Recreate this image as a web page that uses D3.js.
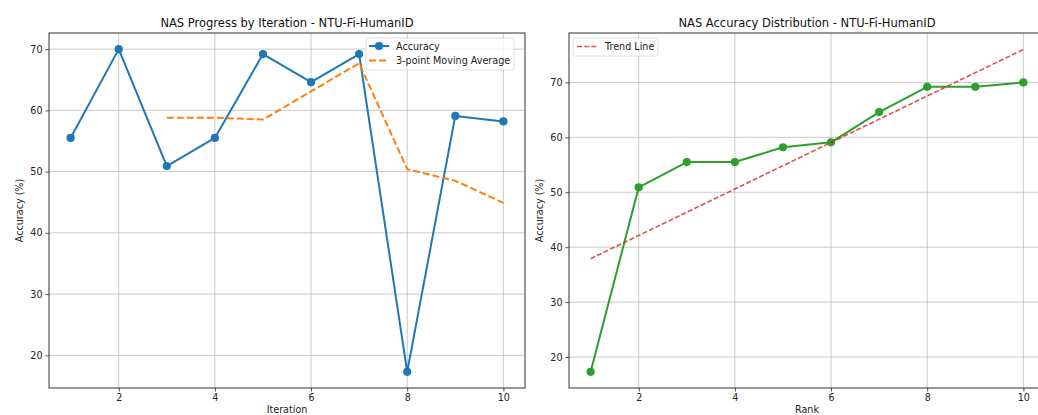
<!DOCTYPE html>
<html><head><meta charset="utf-8">
<script src="https://cdn.jsdelivr.net/npm/d3@7"></script>
<style>
html,body{margin:0;padding:0;background:#fff;overflow:hidden;}
svg{display:block;font-family:"DejaVu Sans",sans-serif;}
</style></head>
<body>
<svg id="chart" width="1038" height="415"></svg>
<script>
// ---- data ----
const iterations = [1,2,3,4,5,6,7,8,9,10];
const accuracy = [55.5,70.0,50.9,55.5,69.2,64.6,69.2,17.3,59.1,58.2];
const maIterations = [3,4,5,6,7,8,9,10];
const movingAvg = [58.8,58.8,58.5,63.1,67.7,50.4,48.5,44.9];
const ranks = [1,2,3,4,5,6,7,8,9,10];
const sortedAccuracy = [17.3,50.9,55.5,55.5,58.2,59.1,64.6,69.2,69.2,70.0];
const trendRanks = [1,10];
const trendValues = [37.9,76.0];
const xTicks = [2,4,6,8,10];
const leftYTicks = [20,30,40,50,60,70];
const rightYTicks = [20,30,40,50,60,70];

const svg = d3.select("#chart");
const yTop = 33, yBot = 388;
const fs = 9.6, tfs = 11.5;

function panel(opt){
  const g = svg.append("g");
  const x = d3.scaleLinear().domain(opt.xDomain).range([opt.x0, opt.x1]);
  const y = d3.scaleLinear().domain(opt.yDomain).range([yBot, yTop]);
  const clipId = "clip"+opt.id;
  svg.append("clipPath").attr("id", clipId).append("rect")
    .attr("x", opt.x0).attr("y", yTop).attr("width", opt.x1-opt.x0).attr("height", yBot-yTop);
  const grid = g.append("g").attr("clip-path", `url(#${clipId})`);
  grid.selectAll("line.vx").data(xTicks).join("line")
    .attr("x1", d=>x(d)).attr("x2", d=>x(d)).attr("y1", yTop).attr("y2", yBot)
    .attr("stroke", "#b0b0b0").attr("stroke-opacity", 0.75).attr("stroke-width", 0.9);
  grid.selectAll("line.hy").data(opt.yTicks).join("line")
    .attr("x1", opt.x0).attr("x2", opt.x1).attr("y1", d=>y(d)).attr("y2", d=>y(d))
    .attr("stroke", "#b0b0b0").attr("stroke-opacity", 0.75).attr("stroke-width", 0.9);
  const xa = g.append("g").attr("transform", `translate(0,${yBot})`)
    .call(d3.axisBottom(x).tickValues(xTicks).tickSize(3.5).tickPadding(3).tickFormat(d3.format("d")));
  const ya = g.append("g").attr("transform", `translate(${opt.x0},0)`)
    .call(d3.axisLeft(y).tickValues(opt.yTicks).tickSize(3.5).tickPadding(3).tickFormat(d3.format("d")));
  [xa, ya].forEach(a=>{
    a.select(".domain").remove();
    a.selectAll("text").attr("font-size", fs).attr("fill", "#222").attr("font-family", "DejaVu Sans");
    a.selectAll("line").attr("stroke", "#222").attr("stroke-width", 0.8);
  });
  g.append("rect").attr("x", opt.x0).attr("y", yTop).attr("width", opt.x1-opt.x0).attr("height", yBot-yTop)
    .attr("fill", "none").attr("stroke", "#333").attr("stroke-width", 1);
  g.append("text").attr("x", (opt.x0+opt.x1)/2).attr("y", 27).attr("text-anchor", "middle")
    .attr("font-size", tfs).attr("fill", "#111").text(opt.title);
  g.append("text").attr("x", (opt.x0+opt.x1)/2).attr("y", 413).attr("text-anchor", "middle")
    .attr("font-size", fs).attr("fill", "#222").text(opt.xLabel);
  g.append("text").attr("transform", `translate(${opt.x0-26},${(yTop+yBot)/2}) rotate(-90)`)
    .attr("text-anchor", "middle").attr("font-size", fs).attr("fill", "#222").text("Accuracy (%)");
  svg.append("clipPath").attr("id", clipId+"b").append("rect")
    .attr("x", opt.x0-10).attr("y", yTop-10).attr("width", opt.x1-opt.x0+20).attr("height", yBot-yTop+20);
  const plot = g.append("g").attr("clip-path", `url(#${clipId}b)`);
  return {g, x, y, plot};
}

const line = (x,y)=>d3.line().x(d=>x(d[0])).y(d=>y(d[1]));

// ---- left panel ----
const L = panel({id:"L", x0:49, x1:525, xDomain:[0.55,10.45], yDomain:[14.665,72.635], yTicks:leftYTicks,
  title:"NAS Progress by Iteration - NTU-Fi-HumanID", xLabel:"Iteration"});
L.plot.append("path").datum(iterations.map((d,i)=>[d,accuracy[i]]))
  .attr("d", line(L.x,L.y)).attr("fill","none").attr("stroke","#1f77b4").attr("stroke-width",2).attr("stroke-linejoin","round");
L.plot.selectAll("circle").data(iterations.map((d,i)=>[d,accuracy[i]])).join("circle")
  .attr("cx", d=>L.x(d[0])).attr("cy", d=>L.y(d[1])).attr("r", 4.1).attr("fill","#1f77b4");
L.plot.append("path").datum(maIterations.map((d,i)=>[d,movingAvg[i]]))
  .attr("d", line(L.x,L.y)).attr("fill","none").attr("stroke","#ff7f0e").attr("stroke-width",2)
  .attr("stroke-dasharray","7,3").attr("stroke-linejoin","round");

const lg = L.g.append("g");
lg.append("rect").attr("x",366).attr("y",38).attr("width",148).attr("height",32).attr("rx",2)
  .attr("fill","#fff").attr("fill-opacity",0.8).attr("stroke","#d6d6d6").attr("stroke-width",0.8);
lg.append("line").attr("x1",369).attr("x2",389).attr("y1",46).attr("y2",46).attr("stroke","#1f77b4").attr("stroke-width",2);
lg.append("circle").attr("cx",379).attr("cy",46).attr("r",4.1).attr("fill","#1f77b4");
lg.append("text").attr("x",396).attr("y",49.5).attr("font-size",fs).attr("fill","#222").text("Accuracy");
lg.append("line").attr("x1",369).attr("x2",389).attr("y1",60.5).attr("y2",60.5).attr("stroke","#ff7f0e").attr("stroke-width",2).attr("stroke-dasharray","7,3");
lg.append("text").attr("x",396).attr("y",64).attr("font-size",fs).attr("fill","#222").text("3-point Moving Average");

// ---- right panel ----
const R = panel({id:"R", x0:569, x1:1045, xDomain:[0.55,10.45], yDomain:[14.36,79.0], yTicks:rightYTicks,
  title:"NAS Accuracy Distribution - NTU-Fi-HumanID", xLabel:"Rank"});
R.plot.append("path").datum(ranks.map((d,i)=>[d,sortedAccuracy[i]]))
  .attr("d", line(R.x,R.y)).attr("fill","none").attr("stroke","#2ca02c").attr("stroke-width",2).attr("stroke-linejoin","round");
R.plot.selectAll("circle").data(ranks.map((d,i)=>[d,sortedAccuracy[i]])).join("circle")
  .attr("cx", d=>R.x(d[0])).attr("cy", d=>R.y(d[1])).attr("r", 4.1).attr("fill","#2ca02c");
R.plot.append("path").datum(trendRanks.map((d,i)=>[d,trendValues[i]]))
  .attr("d", line(R.x,R.y)).attr("fill","none").attr("stroke","#d62728").attr("stroke-opacity",0.8).attr("stroke-width",1.6)
  .attr("stroke-dasharray","5,2.2");

const rg = R.g.append("g");
rg.append("rect").attr("x",573).attr("y",38).attr("width",85).attr("height",18).attr("rx",2)
  .attr("fill","#fff").attr("fill-opacity",0.8).attr("stroke","#d6d6d6").attr("stroke-width",0.8);
rg.append("line").attr("x1",577).attr("x2",598).attr("y1",46.5).attr("y2",46.5).attr("stroke","#d62728").attr("stroke-opacity",0.8)
  .attr("stroke-width",1.6).attr("stroke-dasharray","5,2.2");
rg.append("text").attr("x",605).attr("y",50).attr("font-size",fs).attr("fill","#222").text("Trend Line");
</script>
</body></html>
